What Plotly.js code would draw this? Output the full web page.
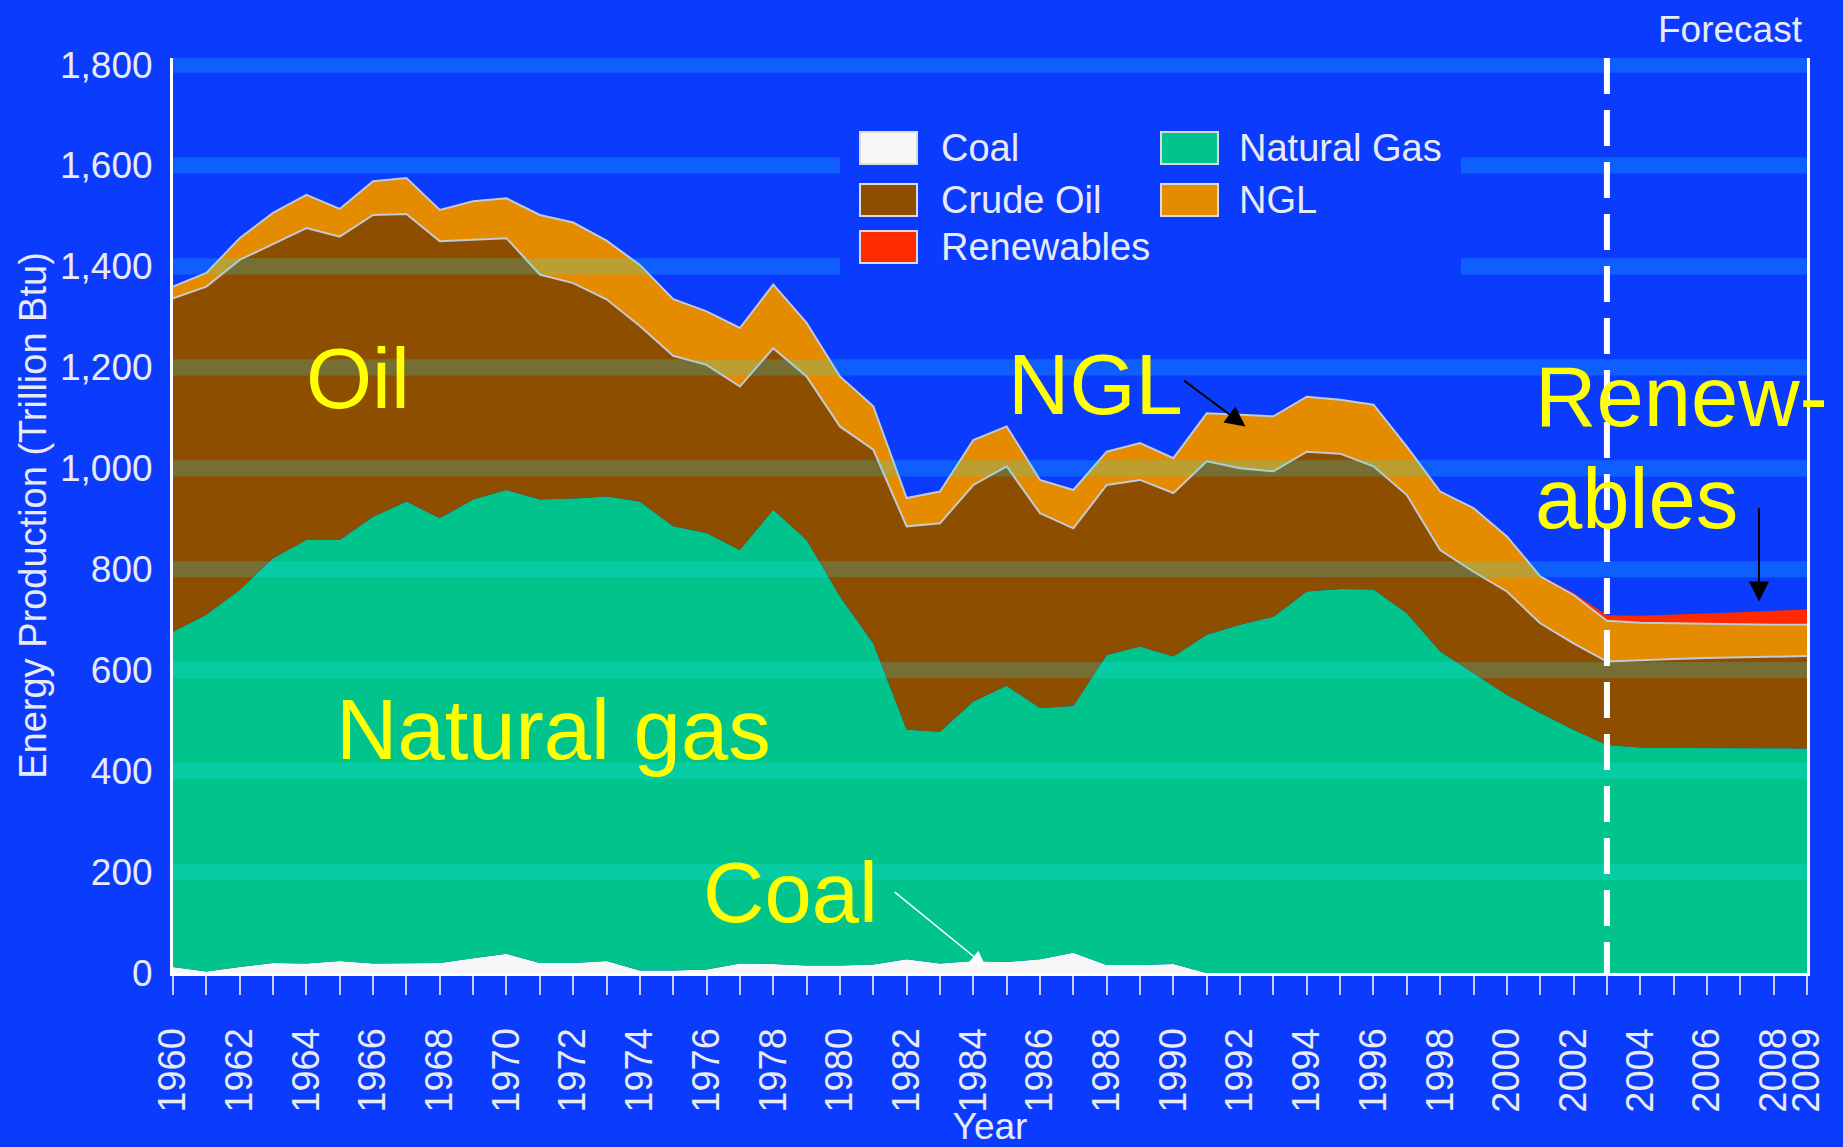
<!DOCTYPE html>
<html>
<head>
<meta charset="utf-8">
<script src="https://cdn.plot.ly/plotly-3.0.1.min.js"></script>
<style>
html,body{margin:0;padding:0;background:#0b3bfd;overflow:hidden}
#chart{width:1843px;height:1147px}
</style>
</head>
<body>
<div id="chart"></div>
<script>
// ---------------- data ----------------
const years = [1960,1961,1962,1963,1964,1965,1966,1967,1968,1969,
               1970,1971,1972,1973,1974,1975,1976,1977,1978,1979,
               1980,1981,1982,1983,1984,1985,1986,1987,1988,1989,
               1990,1991,1992,1993,1994,1995,1996,1997,1998,1999,
               2000,2001,2002,2003,2004,2005,2006,2007,2008,2009];
const xTickText = ['1960','','1962','','1964','','1966','','1968','',
                   '1970','','1972','','1974','','1976','','1978','',
                   '1980','','1982','','1984','','1986','','1988','',
                   '1990','','1992','','1994','','1996','','1998','',
                   '2000','','2002','','2004','','2006','','2008','2009'];
const coal = [12,3,12,20,19,24,19,19,20,29,
              38,20,20,24,5,5,7,19,18,15,
              15,17,27,19,24,22,27,40,16,16,
              18,0,0,0,0,0,0,0,0,0,
              0,0,0,0,0,0,0,0,0,0];
const naturalGas = [664,707,747,802,839,834,885,915,881,909,
                    919,918,920,920,929,880,865,819,900,843,
                    731,636,455,459,514,547,498,489,614,631,
                    609,670,690,706,756,761,760,713,637,594,
                    551,515,482,452,447,446,446,445,445,445];
const crudeOil = [661,650,654,623,618,601,598,570,549,515,
                  499,446,427,391,348,338,333,324,320,324,
                  337,384,403,413,429,435,386,352,337,330,
                  324,344,310,288,277,268,244,234,201,201,
                  205,178,171,165,173,176,178,180,182,183];
const ngl = [23,27,43,61,66,55,67,71,62,76,
             79,118,120,116,121,112,106,116,126,106,
             99,86,56,63,89,79,66,76,66,73,
             69,95,106,109,109,107,122,96,116,126,
             109,93,96,81,74,71,67,65,63,62];
const renewables = [0,0,0,0,0,0,0,0,0,0,
                    0,0,0,0,0,0,0,0,0,0,
                    0,0,0,0,0,0,0,0,0,0,
                    0,0,0,0,0,0,0,0,0,0,
                    0,1,4,11,14,17,22,25,28,30];
const yTickVals = [0,200,400,600,800,1000,1200,1400,1600,1800];
const bandVals = [200,400,600,800,1000,1200,1400,1600,1800];
const forecastStart = 2003;

const seriesNames  = ['Coal','Natural Gas','Crude Oil','NGL','Renewables'];
const seriesValues = [coal, naturalGas, crudeOil, ngl, renewables];
const seriesColors = ['#f7f7f7','#00c48c','#8d4e00','#e48b00','#ff2a00'];
const seriesLines  = [0,0,2,2,0];

// legend layout: [column, row] for each series
const legendSlots = [[0,0],[1,0],[0,1],[1,1],[0,2]];

// ---------------- geometry ----------------
const W = 1843, H = 1147;
const M = {l:173, r:36, t:58, b:174};
const PW = W - M.l - M.r, PH = H - M.t - M.b;
const px2x = p => (p - M.l) / PW;
const py2y = p => (H - M.b - p) / PH;

const FONT = 'Liberation Sans, Arial, Helvetica, sans-serif';
const TXT = '#e8eaf4';
const BG = '#0b3bfd';

// ---------------- traces ----------------
const traces = seriesNames.map((name, i) => ({
  type: 'scatter',
  mode: 'lines',
  name: name,
  x: years,
  y: seriesValues[i],
  stackgroup: 'one',
  fillcolor: seriesColors[i],
  line: {color: seriesLines[i] ? '#c3cad3' : seriesColors[i], width: seriesLines[i], shape: 'linear'},
  hoverinfo: 'skip',
  showlegend: false
}));

// ---------------- shapes ----------------
const shapes = [];
// translucent horizontal bands at each gridline
bandVals.forEach(v => shapes.push({
  type: 'rect', xref: 'x', yref: 'y', x0: years[0], x1: years[years.length-1],
  y0: v - 16, y1: v + 16, fillcolor: 'rgba(30,240,255,0.2)', line: {width: 0}, layer: 'above'
}));
// forecast divider
shapes.push({
  type: 'line', xref: 'x', yref: 'paper', x0: forecastStart, x1: forecastStart, y0: 1, y1: 0,
  line: {color: '#ffffff', width: 6, dash: '36px,16px'}, layer: 'above'
});
// legend backdrop (hides the bands behind the legend)
shapes.push({
  type: 'rect', xref: 'paper', yref: 'paper',
  x0: px2x(840), x1: px2x(1461), y0: py2y(286), y1: py2y(100),
  fillcolor: BG, line: {width: 0}, layer: 'above'
});

const colSwatchX = [860, 1161];
const colTextX = [939, 1237];
const rowY = [148, 200, 247];
const annotations = [];
seriesNames.forEach((name, i) => {
  const [c, r] = legendSlots[i];
  shapes.push({
    type: 'rect', xref: 'paper', yref: 'paper',
    x0: px2x(colSwatchX[c]), x1: px2x(colSwatchX[c] + 57),
    y0: py2y(rowY[r] + 16), y1: py2y(rowY[r] - 16),
    fillcolor: seriesColors[i], line: {color: '#d9dbe3', width: 2}, layer: 'above'
  });
  annotations.push({
    xref: 'paper', yref: 'paper', x: px2x(colTextX[c]), y: py2y(rowY[r]),
    xanchor: 'left', yanchor: 'middle', showarrow: false, text: name,
    font: {family: FONT, size: 38, color: TXT}
  });
});

// ---------------- annotations ----------------
const big = {family: FONT, size: 85, color: '#ffff00'};
const label = (t, lx, cy) => ({xref: 'paper', yref: 'paper', x: px2x(lx), y: py2y(cy),
  xanchor: 'left', yanchor: 'middle', showarrow: false, text: t, font: big});
annotations.push(label('Oil', 304, 378));
annotations.push(label('Natural gas', 334, 729));
annotations.push(label('Coal', 701, 892));
annotations.push(label('NGL', 1006, 384));
annotations.push(label('Renew-', 1533, 397));
annotations.push(label('ables', 1533, 498));

annotations.push({xref: 'paper', yref: 'paper', x: px2x(1805), y: py2y(29),
  xanchor: 'right', yanchor: 'middle', showarrow: false, text: 'Forecast',
  font: {family: FONT, size: 37, color: TXT}});

// arrows
annotations.push({xref: 'x', yref: 'y', x: 1992.16, y: 1083, ax: -63, ay: -47, text: '',
  showarrow: true, arrowhead: 2, arrowsize: 2, arrowwidth: 2, arrowcolor: '#000000'});
annotations.push({xref: 'x', yref: 'y', x: 2007.56, y: 736, ax: 0, ay: -95, text: '',
  showarrow: true, arrowhead: 2, arrowsize: 2, arrowwidth: 2, arrowcolor: '#000000'});
annotations.push({xref: 'x', yref: 'y', x: 1984.36, y: 14, ax: -92, ay: -75, text: '',
  showarrow: true, arrowhead: 2, arrowsize: 2, arrowwidth: 1.5, arrowcolor: '#ffffff'});

// ---------------- layout ----------------
const layout = {
  width: W, height: H,
  margin: M,
  paper_bgcolor: BG, plot_bgcolor: BG,
  font: {family: FONT, color: TXT},
  showlegend: false,
  xaxis: {
    range: [1960, 2009], tickmode: 'array', tickvals: years, ticktext: xTickText,
    tickangle: -90, tickfont: {family: FONT, size: 38, color: TXT},
    ticks: 'outside', ticklen: 19, tickwidth: 2, tickcolor: '#c8cdf0',
    ticklabelstandoff: 18,
    showline: true, linecolor: '#ffffff', linewidth: 3, mirror: false,
    showgrid: false, zeroline: false, fixedrange: true,
    title: {text: 'Year', font: {family: FONT, size: 37, color: TXT}, standoff: 14}
  },
  yaxis: {
    range: [0, 1813], tickmode: 'array', tickvals: yTickVals, tickformat: ',d',
    tickfont: {family: FONT, size: 37, color: TXT},
    ticks: '', ticklabelstandoff: 10,
    showline: true, linecolor: '#ffffff', linewidth: 3, mirror: true,
    showgrid: false, zeroline: false, fixedrange: true,
    title: {text: 'Energy Production (Trillion Btu)', font: {family: FONT, size: 38, color: TXT}, standoff: 2}
  },
  shapes: shapes,
  annotations: annotations
};

Plotly.newPlot('chart', traces, layout, {displayModeBar: false, staticPlot: true});
</script>
</body>
</html>
